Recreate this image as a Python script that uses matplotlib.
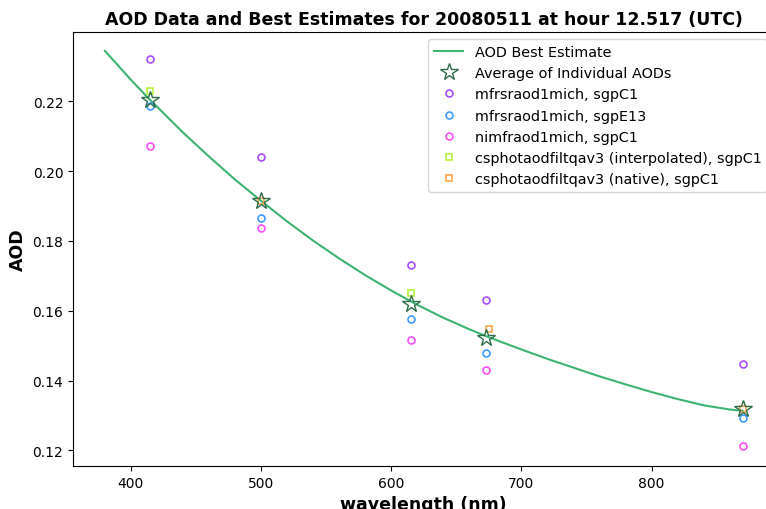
import numpy as np
import matplotlib
matplotlib.use("Agg")
import matplotlib.pyplot as plt

# best-estimate curve, sampled along wavelength
fit_wl = [380, 400, 415, 420, 440, 460, 480, 500, 520, 540, 560, 580, 600,
          615, 620, 640, 660, 673, 680, 700, 720, 740, 760, 780, 800, 820,
          840, 860, 870]
fit_aod = [0.2345, 0.2262, 0.2203, 0.2185, 0.2111, 0.2042, 0.1976, 0.1915,
           0.1856, 0.1801, 0.1750, 0.1702, 0.1658, 0.1627, 0.1617, 0.1580,
           0.1547, 0.1527, 0.1517, 0.1489, 0.1462, 0.1437, 0.1412, 0.1389,
           0.1367, 0.1347, 0.1329, 0.1317, 0.1313]

# average of the individual retrievals
avg_wl = [415, 500, 615, 673, 870]
avg_aod = [0.2203, 0.1915, 0.1618, 0.1523, 0.1317]

# individual instruments
mfr_wl = [415, 500, 615, 673, 870]
mfr_c1 = [0.2321, 0.2040, 0.1731, 0.1630, 0.1447]
mfr_e13 = [0.2186, 0.1867, 0.1575, 0.1480, 0.1293]
nimfr_c1 = [0.2071, 0.1838, 0.1517, 0.1431, 0.1211]

csphot_interp_wl = [415, 615]
csphot_interp = [0.2229, 0.1650]
csphot_native_wl = [500, 675, 870]
csphot_native = [0.1915, 0.1549, 0.1317]

dpi = 100
fig = plt.figure(figsize=(766 / dpi, 510 / dpi), dpi=dpi)
ax = fig.add_axes([73 / 766, 43 / 510, 701.5 / 766, 434 / 510])

ax.plot(fit_wl, fit_aod, color="#3cb371", lw=1.5, label="AOD Best Estimate")
ax.plot(avg_wl, avg_aod, ls="none", marker="*", ms=13, mfc="none",
        mec="#2f6e4a", mew=1.0, label="Average of Individual AODs", zorder=5)

circ = dict(ls="none", marker="o", ms=5, mfc="none", mew=1.2)
ax.plot(mfr_wl, mfr_c1, color="#a64dff", label="mfrsraod1mich, sgpC1", **circ)
ax.plot(mfr_wl, mfr_e13, color="#3d9bff", label="mfrsraod1mich, sgpE13", **circ)
ax.plot(mfr_wl, nimfr_c1, color="#ff4dff", label="nimfraod1mich, sgpC1", **circ)

sq = dict(ls="none", marker="s", ms=5, mfc="none", mew=1.2)
ax.plot(csphot_interp_wl, csphot_interp, color="#b8f23a",
        label="csphotaodfiltqav3 (interpolated), sgpC1", **sq)
ax.plot(csphot_native_wl, csphot_native, color="#ffa54d",
        label="csphotaodfiltqav3 (native), sgpC1", **sq)

ax.set_xlim(355.5, 894.5)
ax.set_ylim(0.1155, 0.2399)

ax.set_title("AOD Data and Best Estimates for 20080511 at hour 12.517 (UTC)",
             fontsize=12.5, fontweight="bold")
ax.set_xlabel("wavelength (nm)", fontsize=12.5, fontweight="bold")
ax.set_ylabel("AOD", fontsize=12.5, fontweight="bold")
ax.legend(loc="upper right", fontsize=10.4)

fig.savefig("out.png", dpi=dpi)
